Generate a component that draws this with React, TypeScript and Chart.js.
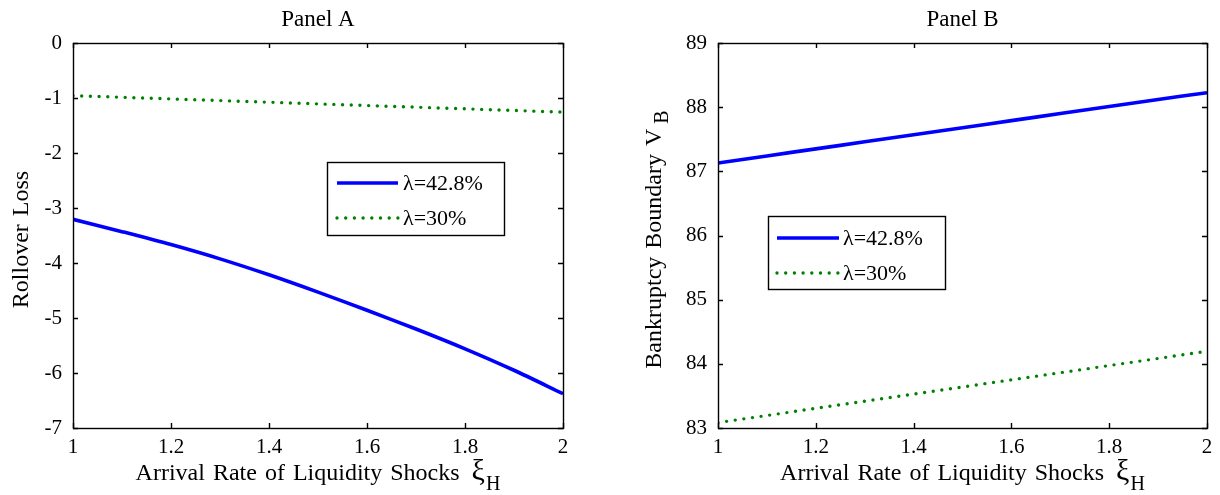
import React, { useEffect, useRef } from 'react';
import { Chart, registerables } from 'chart.js';

Chart.register(...registerables);

// ---------- data ----------
const xValues = [1, 1.1, 1.2, 1.3, 1.4, 1.5, 1.6, 1.7, 1.8, 1.9, 2];
const panelAHigh = [-3.205, -3.43, -3.665, -3.925, -4.215, -4.53, -4.86, -5.2, -5.56, -5.95, -6.376];
const panelALow = [-0.957, -0.987, -1.017, -1.047, -1.077, -1.107, -1.137, -1.167, -1.197, -1.227, -1.257];
const panelBHigh = [87.13, 87.24, 87.35, 87.46, 87.57, 87.68, 87.79, 87.9, 88.01, 88.12, 88.225];
const panelBLow = [83.084, 83.195, 83.306, 83.417, 83.528, 83.64, 83.751, 83.862, 83.973, 84.084, 84.196];

const xTicks = [1, 1.2, 1.4, 1.6, 1.8, 2];
const xTickLabels = ['1', '1.2', '1.4', '1.6', '1.8', '2'];
const yTicksA = [0, -1, -2, -3, -4, -5, -6, -7];
const yTickLabelsA = ['0', '-1', '-2', '-3', '-4', '-5', '-6', '-7'];
const yTicksB = [83, 84, 85, 86, 87, 88, 89];
const yTickLabelsB = ['83', '84', '85', '86', '87', '88', '89'];

const seriesLabels = ['\u03bb=42.8%', '\u03bb=30%'];
const panelTitles = ['Panel A', 'Panel B'];
const xAxisTitle = 'Arrival Rate of Liquidity Shocks';
const xAxisSymbol = '\u03be';
const xAxisSub = 'H';
const yAxisTitles = ['Rollover Loss', 'Bankruptcy Boundary V'];
const yAxisSubs = ['', 'B'];

const FONT = '"Liberation Serif", "Times New Roman", serif';
const BLUE = '#0000ff';
const GREEN = '#008000';

const W = 610;
const H = 495;

const matlabPlugin = {
  id: 'matlabDecor',
  afterDraw(chart: any, _args: any, opts: any) {
    const ctx = chart.ctx as CanvasRenderingContext2D & { wordSpacing?: string };
    const { left, right, top, bottom } = chart.chartArea;
    const xs = chart.scales.x;
    const ys = chart.scales.y;
    ctx.save();
    // box
    ctx.strokeStyle = '#000';
    ctx.lineWidth = 1.4;
    ctx.strokeRect(Math.round(left) + 0.5, Math.round(top) + 0.5, Math.round(right - left), Math.round(bottom - top));
    // inward ticks
    const tl = 5;
    ctx.beginPath();
    xs.ticks.forEach((t: any) => {
      const px = Math.round(xs.getPixelForValue(t.value)) + 0.5;
      ctx.moveTo(px, bottom);
      ctx.lineTo(px, bottom - tl);
      ctx.moveTo(px, top);
      ctx.lineTo(px, top + tl);
    });
    ys.ticks.forEach((t: any) => {
      const py = Math.round(ys.getPixelForValue(t.value)) + 0.5;
      ctx.moveTo(left, py);
      ctx.lineTo(left + tl, py);
      ctx.moveTo(right, py);
      ctx.lineTo(right - tl, py);
    });
    ctx.stroke();

    ctx.fillStyle = '#000';
    // panel title
    ctx.font = `${opts.titleSize}px ${FONT}`;
    ctx.textAlign = 'center';
    ctx.textBaseline = 'alphabetic';
    ctx.fillText(opts.title, (left + right) / 2, opts.titleBase);

    // x title
    ctx.wordSpacing = `${opts.wordSpacing}px`;
    const mainFont = `${opts.axisSize}px ${FONT}`;
    const subFont = `${opts.subSize}px ${FONT}`;
    ctx.font = mainFont;
    const mainTxt = xAxisTitle;
    const wMain = ctx.measureText(mainTxt).width;
    const gap = opts.symGap;
    const symFont = `${opts.symSize}px ${FONT}`;
    ctx.font = symFont;
    const wSym = ctx.measureText(xAxisSymbol).width;
    ctx.font = subFont;
    const wSub = ctx.measureText(xAxisSub).width;
    const total = wMain + gap + wSym + 1 + wSub;
    let sx = (left + right) / 2 - total / 2;
    ctx.textAlign = 'left';
    ctx.font = mainFont;
    ctx.fillText(mainTxt, sx, opts.xTitleBase);
    sx += wMain + gap;
    ctx.font = symFont;
    ctx.fillText(xAxisSymbol, sx, opts.xTitleBase);
    sx += wSym + 1;
    ctx.font = subFont;
    ctx.fillText(xAxisSub, sx, opts.xTitleBase + opts.subDrop);

    // y title (rotated)
    ctx.save();
    const cy = (top + bottom) / 2 + opts.yTitleShift;
    ctx.translate(opts.yTitleX, cy);
    ctx.rotate(-Math.PI / 2);
    ctx.font = mainFont;
    const yMain = opts.yTitle;
    const wy = ctx.measureText(yMain).width;
    ctx.font = subFont;
    const wys = opts.ySub ? ctx.measureText(opts.ySub).width + 5 : 0;
    const ty = wy + wys;
    ctx.textBaseline = 'middle';
    ctx.font = mainFont;
    ctx.fillText(yMain, -ty / 2, 0);
    if (opts.ySub) {
      ctx.font = subFont;
      ctx.fillText(opts.ySub, -ty / 2 + wy + 5, opts.subDrop - 2);
    }
    ctx.restore();
    ctx.wordSpacing = '0px';

    // legend
    const lg = opts.legend;
    ctx.fillStyle = '#fff';
    ctx.fillRect(lg.x, lg.y, lg.w, lg.h);
    ctx.strokeStyle = '#000';
    ctx.lineWidth = 1.4;
    ctx.strokeRect(lg.x + 0.5, lg.y + 0.5, lg.w, lg.h);
    chart.data.datasets.forEach((ds: any, i: number) => {
      const ry = lg.y + lg.rows[i];
      ctx.beginPath();
      ctx.strokeStyle = ds.borderColor;
      ctx.lineWidth = ds.borderWidth;
      ctx.lineCap = ds.borderCapStyle || 'butt';
      ctx.setLineDash(ds.borderDash || []);
      ctx.moveTo(lg.x + lg.lineX0, ry);
      ctx.lineTo(lg.x + lg.lineX1, ry);
      ctx.stroke();
      ctx.setLineDash([]);
      ctx.fillStyle = '#000';
      ctx.font = `${lg.size}px ${FONT}`;
      ctx.textAlign = 'left';
      ctx.textBaseline = 'middle';
      ctx.fillText(ds.label, lg.x + lg.textX, ry + 1);
    });
    ctx.restore();
  },
};

function makeConfig(
  high: number[],
  low: number[],
  yTicks: number[],
  yLabels: string[],
  padding: any,
  decor: any
): any {
  return {
    type: 'line',
    data: {
      datasets: [
        {
          label: seriesLabels[0],
          data: xValues.map((x, i) => ({ x, y: high[i] })),
          borderColor: BLUE,
          borderWidth: 3.6,
          pointRadius: 0,
          tension: 0.3,
          fill: false,
        },
        {
          label: seriesLabels[1],
          data: xValues.map((x, i) => ({ x, y: low[i] })),
          borderColor: GREEN,
          borderWidth: 3.4,
          borderDash: [0, 8.7],
          borderCapStyle: 'round',
          pointRadius: 0,
          tension: 0,
          fill: false,
        },
      ],
    },
    options: {
      animation: false,
      responsive: false,
      maintainAspectRatio: false,
      layout: { padding },
      plugins: {
        legend: { display: false },
        title: { display: false },
        tooltip: { enabled: false },
        matlabDecor: decor,
      },
      scales: {
        x: {
          type: 'linear',
          min: xTicks[0],
          max: xTicks[xTicks.length - 1],
          grid: { display: false, drawTicks: false },
          border: { display: false },
          afterBuildTicks: (s: any) => {
            s.ticks = xTicks.map((v) => ({ value: v }));
          },
          afterFit: (s: any) => {
            s.height = 40;
          },
          ticks: {
            padding: 7,
            color: '#000',
            font: { family: FONT, size: 21 },
            maxRotation: 0,
            autoSkip: false,
            callback: (v: number) => {
              const i = xTicks.findIndex((t) => Math.abs(t - v) < 1e-9);
              return i >= 0 ? xTickLabels[i] : '';
            },
          },
        },
        y: {
          type: 'linear',
          min: Math.min(...yTicks),
          max: Math.max(...yTicks),
          grid: { display: false, drawTicks: false },
          border: { display: false },
          afterBuildTicks: (s: any) => {
            s.ticks = [...yTicks].sort((a, b) => a - b).map((v) => ({ value: v }));
          },
          afterFit: (s: any) => {
            s.width = 60;
          },
          ticks: {
            padding: 11,
            color: '#000',
            font: { family: FONT, size: 21 },
            autoSkip: false,
            callback: (v: number) => {
              const i = yTicks.findIndex((t) => Math.abs(t - v) < 1e-9);
              return i >= 0 ? yLabels[i] : '';
            },
          },
        },
      },
    },
    plugins: [matlabPlugin],
  };
}

function Panel({ config, left }: { config: any; left: number }) {
  const ref = useRef<HTMLCanvasElement | null>(null);
  useEffect(() => {
    if (!ref.current) return;
    const chart = new Chart(ref.current, config);
    return () => chart.destroy();
  }, [config]);
  return (
    <canvas
      ref={ref}
      width={W}
      height={H}
      style={{ position: 'absolute', left, top: 0, width: W, height: H }}
    />
  );
}

const commonDecor = {
  titleSize: 23,
  titleBase: 26,
  axisSize: 24,
  symSize: 30,
  subSize: 20,
  subDrop: 10,
  symGap: 12,
  wordSpacing: 2,
  xTitleBase: 480,
  yTitleShift: 4,
};

const configA = makeConfig(
  panelAHigh,
  panelALow,
  yTicksA,
  yTickLabelsA,
  { left: 13, top: 43, right: 47, bottom: 27 },
  {
    ...commonDecor,
    title: panelTitles[0],
    yTitle: yAxisTitles[0],
    ySub: yAxisSubs[0],
    yTitleX: 22,
    legend: { x: 327, y: 162, w: 177, h: 73, rows: [21, 56], lineX0: 10, lineX1: 71, textX: 76, size: 22 },
  }
);

const configB = makeConfig(
  panelBHigh,
  panelBLow,
  yTicksB,
  yTickLabelsB,
  { left: 48, top: 43, right: 13, bottom: 27 },
  {
    ...commonDecor,
    title: panelTitles[1],
    yTitle: yAxisTitles[1],
    ySub: yAxisSubs[1],
    yTitleX: 45,
    legend: { x: 158, y: 216, w: 177, h: 73, rows: [22, 57], lineX0: 9, lineX1: 71, textX: 75, size: 22 },
  }
);

export default function App() {
  return (
    <div style={{ position: 'absolute', left: 0, top: 0, width: 1220, height: 495, background: '#fff', overflow: 'hidden' }}>
      <Panel config={configA} left={0} />
      <Panel config={configB} left={610} />
    </div>
  );
}
